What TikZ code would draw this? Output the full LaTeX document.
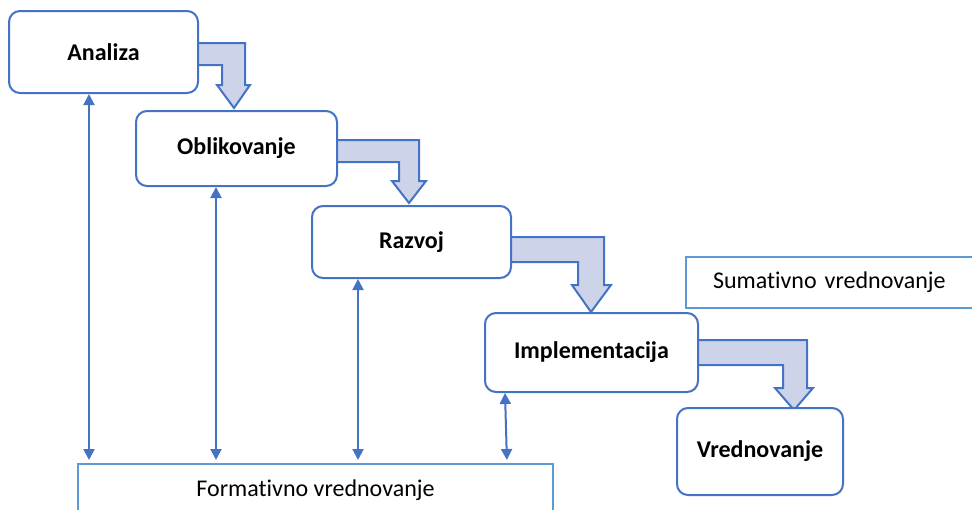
\documentclass[tikz,border=0pt]{standalone}
\usepackage{fontspec}
\setmainfont[Ligatures=NoCommon]{Carlito}
\usetikzlibrary{arrows.meta,calc}
\definecolor{bl}{RGB}{68,114,196}
\definecolor{lb}{RGB}{91,155,213}
\definecolor{af}{RGB}{205,212,234}
\begin{document}
\begin{tikzpicture}[x=1pt,y=-1pt,
 stepbox/.style={draw=bl, line width=2pt, rounded corners=11pt, fill=white,
   font=\fontsize{24}{28}\selectfont\bfseries, anchor=north west, inner sep=0pt},
 evalbox/.style={draw=lb, line width=2pt, fill=white,
   font=\fontsize{24}{28}\selectfont, anchor=north west, inner sep=0pt},
 bent/.style={draw=bl, line width=2pt, fill=af, line join=miter},
 dbl/.style={draw=bl, line width=2pt,
   {Triangle[length=11pt,width=11pt]}-{Triangle[length=11pt,width=11pt]}}]
\useasboundingbox (0,0) rectangle (972,509);
\clip (0,0) rectangle (972,509);

% bent block arrows (behind boxes)
\draw[bent] (190,43) -- (245,43) -- (245,85) -- (250,85) -- (234,108) -- (217,85) -- (222,85) -- (222,65) -- (190,65) -- cycle;
\draw[bent] (328,140) -- (419,140) -- (419,181) -- (426,181) -- (409,203) -- (392,181) -- (399,181) -- (399,162) -- (328,162) -- cycle;
\draw[bent] (502,237) -- (604,237) -- (604,285) -- (611,285) -- (591,312) -- (572,285) -- (578,285) -- (578,262) -- (502,262) -- cycle;
\draw[bent] (689,340) -- (807,340) -- (807,388) -- (813,388) -- (794,410) -- (775,388) -- (783,388) -- (783,365) -- (689,365) -- cycle;

% step boxes
\node[stepbox, minimum width=189pt, minimum height=82pt] (analiza) at (8,10) {Analiza};
\node[stepbox, minimum width=201pt, minimum height=75pt] (oblik) at (135,110) {Oblikovanje};
\node[stepbox, minimum width=199pt, minimum height=72pt] (razvoj) at (311,205) {Razvoj};
\node[stepbox, minimum width=213pt, minimum height=79pt] (impl) at (484,312) {Implementacija};
\node[stepbox, minimum width=166pt, minimum height=87pt] (vred) at (676,407) {Vrednovanje};

% evaluation boxes
\node[evalbox, minimum width=475pt, minimum height=52pt] (form) at (77,463) {Formativno vrednovanje};
\node[evalbox, minimum height=51pt, text width=260pt, align=left, inner xsep=27pt] (sum) at (685,256) {Sumativno vrednovanje};

% double-headed arrows
\coordinate (f1) at (89,0);
\coordinate (f2) at (216,0);
\coordinate (f3) at (358,0);
\coordinate (f4a) at (505,0);
\coordinate (f4b) at (507,0);
\draw[dbl, shorten >=3pt] (analiza.south -| f1) -- (form.north -| f1);
\draw[dbl, shorten >=3pt] (oblik.south -| f2) -- (form.north -| f2);
\draw[dbl, shorten >=3pt] (razvoj.south -| f3) -- (form.north -| f3);
\draw[dbl, shorten >=3pt] (impl.south -| f4a) -- (form.north -| f4b);
\end{tikzpicture}
\end{document}
